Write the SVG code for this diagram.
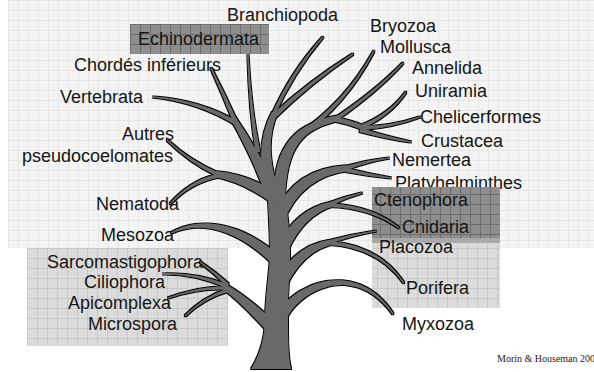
<svg xmlns="http://www.w3.org/2000/svg" width="594" height="372" viewBox="0 0 594 372">
  <style>
    .lbl { font-family: "Liberation Sans", Arial, sans-serif; font-size: 18px; fill: #151515; }
    .credit { font-family: "Liberation Serif", "Times New Roman", serif; font-size: 10px; fill: #222; }
    .wood { fill: #696969; }
  </style>
  <defs>
    <pattern id="gridPale" width="10" height="10" patternUnits="userSpaceOnUse" x="8" y="0">
      <rect width="10" height="10" fill="#f4f4f4"/>
      <path d="M0.5 0V10M0 0.5H10" stroke="#e6e6e6" stroke-width="1"/>
    </pattern>
    <pattern id="gridGrey" width="10" height="10" patternUnits="userSpaceOnUse" x="7" y="8">
      <rect width="10" height="10" fill="#dcdcdc"/>
      <path d="M0.5 0V10M0 0.5H10" stroke="#c8c8c8" stroke-width="1"/>
    </pattern>
    <pattern id="gridDark" width="10" height="10" patternUnits="userSpaceOnUse" x="0" y="4">
      <rect width="10" height="10" fill="#8e8e8e"/>
      <path d="M0.5 0V10M0 0.5H10" stroke="#6c6c6c" stroke-width="1"/>
    </pattern>
    <!-- black rim around the union of all limbs, so joints show no seams -->
    <filter id="rim" filterUnits="userSpaceOnUse" x="0" y="0" width="594" height="372">
      <feMorphology in="SourceAlpha" operator="dilate" radius="1" result="grown"/>
      <feFlood flood-color="#000"/>
      <feComposite in2="grown" operator="in" result="edge"/>
      <feMerge>
        <feMergeNode in="edge"/>
        <feMergeNode in="SourceGraphic"/>
      </feMerge>
    </filter>
  </defs>

  <!-- backgrounds -->
  <rect width="594" height="372" fill="#ffffff"/>
  <rect x="8" y="0" width="586" height="248" fill="url(#gridPale)"/>
  <rect x="27" y="248" width="201" height="98" fill="url(#gridGrey)"/>

  <g id="platyhelminthes"><text class="lbl" x="395" y="189">Platyhelminthes</text></g>

  <rect x="372" y="187" width="128" height="51" fill="url(#gridDark)"/>
  <rect x="372" y="238" width="128" height="5" fill="#a9a9a9"/>
  <rect x="372" y="243" width="128" height="65" fill="url(#gridGrey)"/>
  <rect x="130" y="24" width="139" height="30" fill="url(#gridDark)"/>

  <!-- taxon labels -->
  <g id="branchiopoda"><text class="lbl" x="227" y="21">Branchiopoda</text></g>
  <g id="echinodermata"><text class="lbl" x="138" y="45">Echinodermata</text></g>
  <g id="chordes"><text class="lbl" x="74" y="71">Chordés inférieurs</text></g>
  <g id="vertebrata"><text class="lbl" x="60" y="103">Vertebrata</text></g>
  <g id="pseudocoelomates">
    <text class="lbl" x="122" y="140">Autres</text>
    <text class="lbl" x="22" y="162">pseudocoelomates</text>
  </g>
  <g id="nematoda"><text class="lbl" x="96" y="210">Nematoda</text></g>
  <g id="mesozoa"><text class="lbl" x="101" y="241">Mesozoa</text></g>
  <g id="sarcomastigophora"><text class="lbl" x="47" y="268">Sarcomastigophora</text></g>
  <g id="ciliophora"><text class="lbl" x="84" y="288">Ciliophora</text></g>
  <g id="apicomplexa"><text class="lbl" x="68" y="309">Apicomplexa</text></g>
  <g id="microspora"><text class="lbl" x="88" y="330">Microspora</text></g>
  <g id="bryozoa"><text class="lbl" x="370" y="32">Bryozoa</text></g>
  <g id="mollusca"><text class="lbl" x="380" y="53">Mollusca</text></g>
  <g id="annelida"><text class="lbl" x="412" y="74">Annelida</text></g>
  <g id="uniramia"><text class="lbl" x="415" y="97">Uniramia</text></g>
  <g id="chelicerformes"><text class="lbl" x="420" y="123">Chelicerformes</text></g>
  <g id="crustacea"><text class="lbl" x="421" y="147">Crustacea</text></g>
  <g id="nemertea"><text class="lbl" x="392" y="166">Nemertea</text></g>
  <g id="ctenophora"><text class="lbl" x="374" y="206">Ctenophora</text></g>
  <g id="cnidaria"><text class="lbl" x="402" y="233">Cnidaria</text></g>
  <g id="placozoa"><text class="lbl" x="379" y="253">Placozoa</text></g>
  <g id="porifera"><text class="lbl" x="406" y="294">Porifera</text></g>
  <g id="myxozoa"><text class="lbl" x="402" y="330">Myxozoa</text></g>
  <g id="credit"><text class="credit" x="497" y="362">Morin &amp; Houseman 200</text></g>

  <!-- the tree: trunk and tapered limbs -->
  <g id="tree" class="wood" filter="url(#rim)">
    <!-- trunk -->
    <path d="M251,369 C260,355 265,338 265,318 C266,290 270,270 270,250 C270,230 268,210 268,192 L285,192 C287,215 290,232 290,250 C290,275 287,300 288,320 C288,340 288,355 291,369 Z"/>
    <!-- upper left limb, Echinodermata stalk, Vertebrata, Chordés -->
    <path d="M283.2,201.8 Q261.9,156 235.3,116.8 L230.7,119.2 Q254.1,160 270.8,208.2 Z"/>
    <path d="M260.3,151.7 Q251.3,109.9 248.6,55 L247.4,55 Q248.7,110.1 255.7,152.3 Z"/>
    <path d="M238,121.8 Q200.5,99.4 153.2,96.4 L152.8,97.6 Q199.5,102.6 238,126.7 Z"/>
    <path d="M238,122.4 Q225.3,94.4 211.6,67.8 L210.4,68.2 Q222.7,95.6 234,124.1 Z"/>
    <!-- upper middle limb, Branchiopoda, Bryozoa -->
    <path d="M284,204.8 Q260.8,149.8 278,111.9 L272,112.1 Q251.2,150.2 270,205.2 Z"/>
    <path d="M273.2,118.3 Q293.4,72.9 323.5,37.3 L322.5,36.7 Q290.6,71.2 271.1,115.7 Z"/>
    <path d="M273.9,119.4 Q311,83.3 353.4,54.5 L352.6,53.5 Q309,80.7 271.6,115.1 Z"/>
    <!-- upper right limb and its twigs -->
    <path d="M285,199 C286.8,146.5 301.6,128.5 340.5,120.7 L339.5,115.3 C298.4,121.5 273,143.5 274,198 Z"/>
    <path d="M334.2,121.5 Q349.3,124.4 363.4,130 L364.6,126 Q350.7,119.6 335.8,117.5 Z"/>
    <path d="M299.7,137.5 Q346,106 374.4,51.4 L373.6,50.6 Q344,104 296.3,134.5 Z"/>
    <path d="M336.4,120.8 Q378.8,91 403.4,63.5 L402.6,62.5 Q377.2,89 334.1,118.2 Z"/>
    <path d="M362.2,128.6 Q390.7,115.9 406.4,92.5 L405.6,91.5 Q389.3,114.1 359.8,125.4 Z"/>
    <path d="M362.4,130 Q392.2,128.2 420.1,117.6 L419.9,116.4 Q391.8,125.8 361.6,126.1 Z"/>
    <path d="M359.5,131.9 Q387.7,139.2 410.9,142.6 L411.1,141.4 Q388.3,136.8 360.5,128.1 Z"/>
    <!-- Nemertea / Platyhelminthes -->
    <path d="M283,223.1 Q301.1,175.9 350.2,170.8 L345.8,165.2 Q294.9,168.1 275,212.9 Z"/>
    <path d="M346.5,169.9 Q368.3,162.2 389.1,158.6 L388.9,157.4 Q367.7,159.8 345.5,166.1 Z"/>
    <path d="M345.7,172 Q367.8,176.2 390.9,178.6 L391.1,177.4 Q368.2,173.8 346.3,168.1 Z"/>
    <!-- Ctenophora / Cnidaria -->
    <path d="M287.3,252.2 Q303.3,215.1 334.2,206.1 L329.8,201.9 Q296.7,208.9 278.7,243.9 Z"/>
    <path d="M330.6,205.8 Q346.3,198 362.2,193.6 L361.8,192.4 Q345.7,196 329.4,202.3 Z"/>
    <path d="M329.4,206.9 Q371.6,208.2 398.8,228.6 L399.2,227.4 Q372.4,205.8 330.7,203.2 Z"/>
    <!-- Placozoa / Porifera -->
    <path d="M286.2,286.3 Q303.1,251.2 333.1,244.2 L328.9,239.9 Q296.9,244.8 277.8,277.7 Z"/>
    <path d="M329.4,243.8 Q352.3,236 376.1,231.6 L375.9,230.4 Q351.7,234 328.6,240.2 Z"/>
    <path d="M328,244.8 Q377.4,247.2 403.7,283.5 L404.3,282.5 Q378.6,244.8 330,241.2 Z"/>
    <!-- Myxozoa -->
    <path d="M286.9,317.5 C307.2,283.4 359.2,267.4 392.5,314.4 L393.5,313.6 C360.8,262.6 302.8,276.6 277.1,312.5 Z"/>
    <!-- Mesozoa -->
    <path d="M282,258.2 C242,221.5 199.7,215.5 170.7,232.5 L171.3,233.5 C200.3,220.5 238,228.5 274,265.8 Z"/>
    <!-- pseudocoelomates and Nematoda -->
    <path d="M277.4,192.5 Q246.8,173.9 216.2,171.3 L213.8,176.8 Q243.2,182.1 272.6,203.5 Z"/>
    <path d="M218.1,172.4 Q190.7,161 167.3,139.5 L166.7,140.5 Q189.4,163 215.9,175.6 Z"/>
    <path d="M216,174.3 Q189.4,181 169.7,203.5 L170.3,204.5 Q190.6,183 218,177.7 Z"/>
    <!-- protist cluster -->
    <path d="M276.2,323.8 Q248.2,296.8 227.1,284.9 L222.9,289.1 Q241.8,303.2 267.8,332.2 Z"/>
    <path d="M229,283.8 Q214.7,271.2 200.3,261.6 L199.7,262.4 Q213.4,272.8 227,286.2 Z"/>
    <path d="M227.3,284.3 Q195.2,272 163.1,273.5 L162.9,274.5 Q194.8,274 226.7,287.8 Z"/>
    <path d="M226.7,286.2 Q199.8,286 167.9,297.5 L168.1,298.5 Q200.2,288 227.3,289.8 Z"/>
    <path d="M227.1,288.4 Q202.5,297.1 184.7,315.6 L185.3,316.4 Q203.5,298.9 228.9,291.6 Z"/>
  </g>
</svg>
